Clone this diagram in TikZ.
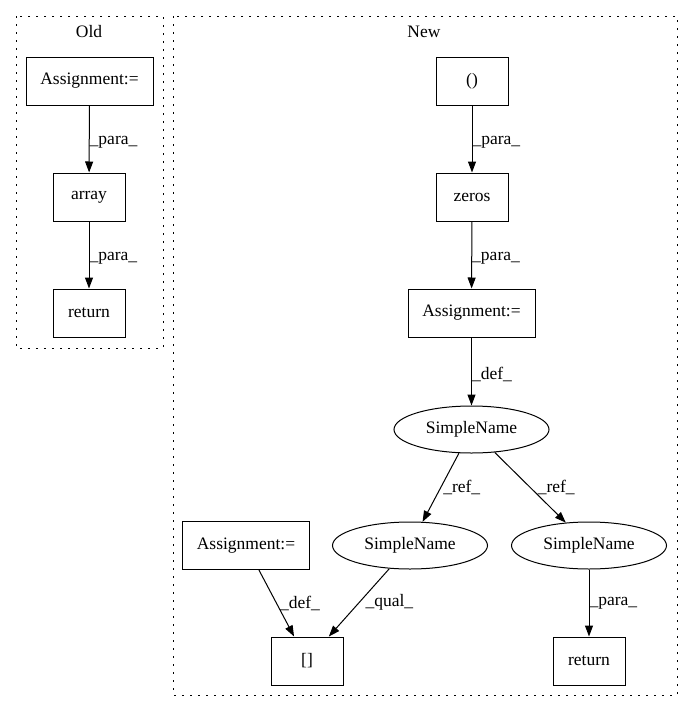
\documentclass[tikz,border=0pt]{standalone}
\usepackage{fontspec}
\setmainfont{Liberation Serif}
\usetikzlibrary{arrows.meta,shapes.geometric}
\begin{document}
\begin{tikzpicture}[x=1pt,y=-1pt,
  font=\fontsize{17.5}{20}\selectfont,
  box/.style={draw, line width=1pt, rectangle, minimum height=48pt, inner sep=0pt},
  small/.style={box, minimum width=72pt},
  wide/.style={box, minimum width=127pt},
  oval/.style={draw, line width=1pt, ellipse, minimum width=155pt, minimum height=47pt, inner sep=0pt},
  cluster/.style={draw, line width=1pt, dash pattern=on 1.6pt off 6.4pt},
  edge/.style={-{Triangle[length=11pt,width=8pt]}, line width=1pt},
  lbl/.style={anchor=west, inner sep=0pt}]
\useasboundingbox (0,0) rectangle (693,712);
% clusters
\draw[cluster] (16,16) rectangle (163,348);
\node (oldt) at (89,32) {Old};
\draw[cluster] (173,16) rectangle (677,695);
\node (newt) at (424,32) {New};
% old nodes
\node[wide] (oa) at (89.5,81) {Assignment:=};
\node[small] (oarr) at (89,197) {array};
\node[small] (oret) at (89,313) {return};
% new nodes
\node[small] (par) at (472,81) {()};
\node[small] (zer) at (472,197) {zeros};
\node[wide] (na) at (471.5,313) {Assignment:=};
\node[oval] (s0) at (471.5,429.5) {SimpleName};
\node[oval] (s1) at (410,545.5) {SimpleName};
\node[oval] (s2) at (589,545.5) {SimpleName};
\node[wide] (na2) at (246,545.5) {Assignment:=};
\node[small] (br) at (307,661) {[]};
\node[small] (nret) at (589,661) {return};
% edges
\draw[edge] (oa) -- node[lbl, pos=0.55] {\_para\_} (oarr);
\draw[edge] (oarr) -- node[lbl, pos=0.55] {\_para\_} (oret);
\draw[edge] (par) -- node[lbl, pos=0.55] {\_para\_} (zer);
\draw[edge] (zer) -- node[lbl, pos=0.55] {\_para\_} (na);
\draw[edge] (na) -- node[lbl, pos=0.55] {\_def\_} (s0);
\draw[edge] (s0) -- node[lbl, pos=0.5, xshift=2pt] {\_ref\_} (s1);
\draw[edge] (s0) -- node[lbl, pos=0.5, xshift=7pt] {\_ref\_} (s2);
\draw[edge] (na2) -- node[lbl, pos=0.5, xshift=3pt] {\_def\_} (br);
\draw[edge] (s1) -- node[lbl, pos=0.5, xshift=6pt] {\_qual\_} (br);
\draw[edge] (s2) -- node[lbl, pos=0.5] {\_para\_} (nret);
\end{tikzpicture}
\end{document}
